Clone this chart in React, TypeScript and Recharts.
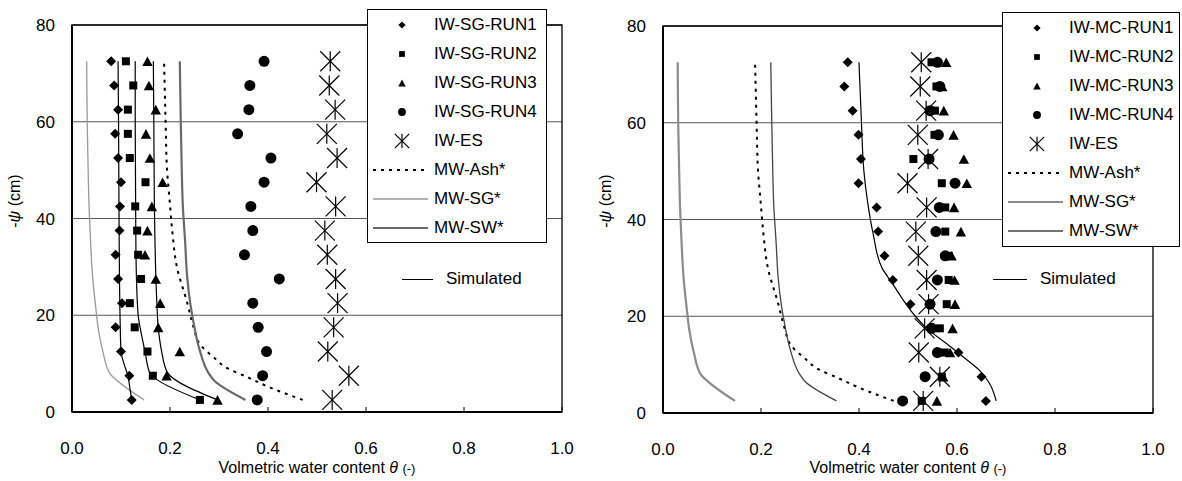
import {
  ComposedChart, Scatter, Line, XAxis, YAxis, CartesianGrid, Legend, ReferenceArea,
} from 'recharts'

const FONT = '"Liberation Sans", Arial, Helvetica, sans-serif'

// suction heads of the measured points (cm)
const PSI = [72.5, 67.5, 62.5, 57.5, 52.5, 47.5, 42.5, 37.5, 32.5, 27.5, 22.5, 17.5, 12.5, 7.5, 2.5]

// left panel, IW-SG runs (theta at each PSI)
const SG_RUN1 = [0.080, 0.086, 0.094, 0.088, 0.094, 0.100, 0.098, 0.097, 0.089, 0.094, 0.102, 0.089, 0.100, 0.117, 0.122]
const SG_RUN2 = [0.110, 0.125, 0.114, 0.114, 0.118, 0.150, 0.129, 0.133, 0.135, 0.141, 0.118, 0.128, 0.154, 0.165, 0.261]
const SG_RUN3 = [0.154, 0.157, 0.171, 0.151, 0.159, 0.185, 0.163, 0.154, 0.149, 0.171, 0.180, 0.176, 0.220, 0.193, 0.297]
const SG_RUN4 = [0.392, 0.363, 0.361, 0.338, 0.406, 0.392, 0.365, 0.369, 0.352, 0.423, 0.369, 0.380, 0.397, 0.389, 0.378]

// right panel, IW-MC runs
const MC_RUN1 = [0.377, 0.370, 0.387, 0.399, 0.404, 0.399, 0.436, 0.439, 0.452, 0.469, 0.505, 0.553, 0.603, 0.650, 0.659]
const MC_RUN2 = [0.548, 0.558, 0.555, 0.554, 0.511, 0.569, 0.576, 0.576, 0.583, 0.583, 0.579, 0.565, 0.575, 0.569, 0.528]
const MC_RUN3 = [0.578, 0.570, 0.573, 0.593, 0.614, 0.620, 0.594, 0.608, 0.589, 0.595, 0.596, 0.591, 0.586, 0.572, 0.559]
const MC_RUN4 = [0.560, 0.565, 0.545, 0.562, 0.543, 0.596, 0.564, 0.557, 0.576, 0.560, 0.545, 0.548, 0.560, 0.535, 0.489]

// IW-ES, same in both panels
const IW_ES = [0.527, 0.525, 0.537, 0.520, 0.541, 0.499, 0.538, 0.516, 0.521, 0.538, 0.542, 0.534, 0.522, 0.565, 0.531]

// simulated curves
const SIM1_PSI = [72.5, 60, 40, 20, 12.5, 10, 7.5, 5, 2.5]
const SIM1_THETA = [0.094, 0.095, 0.096, 0.098, 0.100, 0.106, 0.114, 0.118, 0.122]
const SIM2_PSI = [72.5, 60, 40, 30, 20, 17.5, 12.5, 8, 6.8, 2.5]
const SIM2_THETA = [0.129, 0.129, 0.130, 0.131, 0.135, 0.139, 0.149, 0.159, 0.172, 0.261]
const SIM3_PSI = [72.5, 60, 44, 23, 17.5, 12.5, 8.3, 2.5]
const SIM3_THETA = [0.166, 0.167, 0.168, 0.173, 0.176, 0.183, 0.194, 0.297]
const SIM_MC_PSI = [72.5, 60, 50, 44, 37, 30, 26.8, 23.4, 20, 17.8, 14, 11, 8.9, 6, 2.5]
const SIM_MC_THETA = [0.400, 0.405, 0.410, 0.417, 0.429, 0.447, 0.468, 0.490, 0.515, 0.535, 0.583, 0.620, 0.645, 0.667, 0.680]

// MW curves (both panels)
const ASH_PSI = [72, 60, 50, 44, 37, 30, 23, 17.6, 14, 11.4, 9, 7.3, 5.5, 4.5, 2.5]
const ASH_THETA = [0.188, 0.191, 0.194, 0.199, 0.205, 0.214, 0.234, 0.248, 0.261, 0.288, 0.318, 0.356, 0.394, 0.418, 0.471]
const MWSG_PSI = [72.5, 60, 50, 42, 35, 28, 22, 17, 12.5, 8, 6.5, 2.5]
const MWSG_THETA = [0.030, 0.031, 0.033, 0.035, 0.038, 0.042, 0.048, 0.054, 0.063, 0.077, 0.092, 0.147]
const MWSW_PSI = [72.5, 60, 50, 43, 35, 28, 22, 18, 13, 8, 6.5, 2.5]
const MWSW_THETA = [0.220, 0.222, 0.224, 0.226, 0.231, 0.235, 0.242, 0.249, 0.260, 0.279, 0.290, 0.354]

const X_TICKS = [0, 0.2, 0.4, 0.6, 0.8, 1.0]
const Y_TICKS = [0, 20, 40, 60, 80]

type Kind = 'diamond' | 'square' | 'triangle' | 'circle' | 'star'

interface MarkerSeries { name: string; kind: Kind; values: number[] }
interface CurveStyle { stroke: string; width: number; dash?: string }
interface CurveSeries extends CurveStyle { name: string; psi: number[]; theta: number[] }

function pts(psi: number[], theta: number[]) {
  return psi.map((y, i) => ({ x: theta[i], y }))
}

function Mark({ kind, cx, cy, s = 1 }: { kind: Kind; cx: number; cy: number; s?: number }) {
  if (kind === 'diamond') {
    const d = 5 * s
    return <path d={`M${cx},${cy - d}L${cx + d},${cy}L${cx},${cy + d}L${cx - d},${cy}Z`} fill="#000" />
  }
  if (kind === 'square') {
    const d = 4 * s
    return <rect x={cx - d} y={cy - d} width={2 * d} height={2 * d} fill="#000" />
  }
  if (kind === 'triangle') {
    const w = 5.2 * s
    const h = 4.8 * s
    return <path d={`M${cx},${cy - h}L${cx + w},${cy + h}L${cx - w},${cy + h}Z`} fill="#000" />
  }
  if (kind === 'circle') return <circle cx={cx} cy={cy} r={5.5 * s} fill="#000" />
  const d = 10 * s
  return (
    <g stroke="#000" strokeWidth={1.2}>
      <line x1={cx - d} y1={cy - d} x2={cx + d} y2={cy + d} />
      <line x1={cx - d} y1={cy + d} x2={cx + d} y2={cy - d} />
      <line x1={cx} y1={cy - d} x2={cx} y2={cy + d} />
    </g>
  )
}

interface LegendRow { name: string; kind?: Kind; line?: CurveStyle }

function LegendBox({ rows, width, height, sim }: {
  rows: LegendRow[]; width: number; height: number
  sim: { x1: number; x2: number; y: number; tx: number }
}) {
  return (
    <div style={{ position: 'relative', width, height, fontFamily: FONT, fontSize: 17, color: '#000' }}>
      <div style={{
        position: 'absolute', inset: 0, border: '1px solid #000', background: '#fff', boxSizing: 'border-box',
      }} />
      {rows.map((r, i) => (
        <div key={r.name} style={{
          position: 'absolute', left: 0, top: 16 + i * 29 - 11, height: 22, display: 'flex', alignItems: 'center',
        }}>
          <svg width={67} height={22}>
            {r.kind && <Mark kind={r.kind} cx={35} cy={11} s={0.72} />}
            {r.line && (
              <line x1={6} x2={61} y1={11} y2={11} stroke={r.line.stroke}
                strokeWidth={r.line.width} strokeDasharray={r.line.dash} />
            )}
          </svg>
          <span style={{ whiteSpace: 'nowrap' }}>{r.name}</span>
        </div>
      ))}
      <svg style={{ position: 'absolute', left: 0, top: 0, overflow: 'visible' }} width={1} height={1}>
        <line x1={sim.x1} x2={sim.x2} y1={sim.y + 0.5} y2={sim.y + 0.5} stroke="#000" strokeWidth={1} />
      </svg>
      <span style={{ position: 'absolute', left: sim.tx, top: sim.y - 11, lineHeight: '22px', whiteSpace: 'nowrap' }}>
        Simulated
      </span>
    </div>
  )
}

interface PanelProps {
  left: number
  marginTop: number
  markers: MarkerSeries[]
  sims: CurveSeries[]
  mw: CurveSeries[]
  legendLeft: number
  legendTop: number
  legendWidth: number
  legendHeight: number
  sim: { x1: number; x2: number; y: number; tx: number }
}

function Panel(p: PanelProps) {
  const W = 591
  const H = 481
  const rows: LegendRow[] = [
    ...p.markers.map((m) => ({ name: m.name, kind: m.kind })),
    ...p.mw.map((c) => ({ name: c.name, line: c })),
  ]
  return (
    <div style={{ position: 'absolute', left: p.left, top: 0, width: W, height: H }}>
      <ComposedChart width={W} height={H} margin={{ top: p.marginTop, right: 29, bottom: 69 - 40 - (p.marginTop - 25), left: 0 }}>
        <CartesianGrid vertical={false} stroke="#555" strokeWidth={1} />
        <XAxis
          type="number" dataKey="x" domain={[0, 1]} ticks={X_TICKS} height={40}
          tickFormatter={(v: number) => v.toFixed(1)}
          tick={{ fontSize: 17, fill: '#000', fontFamily: FONT }}
          tickSize={-5} tickMargin={35}
          axisLine={{ stroke: '#000', strokeWidth: 2 }} tickLine={{ stroke: '#000' }}
        />
        <YAxis
          type="number" dataKey="y" domain={[0, 80]} ticks={Y_TICKS} width={72}
          tick={{ fontSize: 17, fill: '#000', fontFamily: FONT }}
          tickSize={0} tickMargin={17} tickLine={false}
          axisLine={{ stroke: '#000', strokeWidth: 2 }}
        />
        <ReferenceArea x1={0} x2={1} y1={0} y2={80} fill="none" stroke="#000" strokeWidth={1.3} />
        {p.mw.map((c) => (
          <Line key={c.name} data={pts(c.psi, c.theta)} dataKey="y" type="monotoneY"
            stroke={c.stroke} strokeWidth={c.width} strokeDasharray={c.dash}
            dot={false} activeDot={false} isAnimationActive={false} />
        ))}
        {p.sims.map((c) => (
          <Line key={c.name} data={pts(c.psi, c.theta)} dataKey="y" type="monotoneY"
            stroke={c.stroke} strokeWidth={c.width}
            dot={false} activeDot={false} isAnimationActive={false} />
        ))}
        {p.markers.map((m) => (
          <Scatter key={m.name} name={m.name} data={pts(PSI, m.values)} isAnimationActive={false}
            shape={(s: any) => <Mark kind={m.kind} cx={s.cx} cy={s.cy} />} />
        ))}
        <Legend
          layout="vertical" align="center" verticalAlign="middle"
          wrapperStyle={{ left: p.legendLeft, top: p.legendTop, width: p.legendWidth, height: p.legendHeight }}
          content={() => <LegendBox rows={rows} width={p.legendWidth} height={p.legendHeight} sim={p.sim} />}
        />
      </ComposedChart>
      <div style={{
        position: 'absolute', left: 15, top: 201, transform: 'translate(-50%, -50%) rotate(-90deg)',
        fontFamily: FONT, fontSize: 16, whiteSpace: 'nowrap', color: '#000',
      }}>
        -<i>ψ</i> (cm)
      </div>
      <div style={{
        position: 'absolute', left: 317, top: 468, transform: 'translate(-50%, -50%)',
        fontFamily: FONT, fontSize: 16, whiteSpace: 'nowrap', color: '#000',
      }}>
        Volmetric water content <i>θ</i> <span style={{ fontSize: 13 }}>(-)</span>
      </div>
    </div>
  )
}

const SIM_STYLE = { stroke: '#000', width: 1.2 }
const ASH_STYLE = { stroke: '#000', width: 2, dash: '3 5' }

const LEFT_MARKERS: MarkerSeries[] = [
  { name: 'IW-SG-RUN1', kind: 'diamond', values: SG_RUN1 },
  { name: 'IW-SG-RUN2', kind: 'square', values: SG_RUN2 },
  { name: 'IW-SG-RUN3', kind: 'triangle', values: SG_RUN3 },
  { name: 'IW-SG-RUN4', kind: 'circle', values: SG_RUN4 },
  { name: 'IW-ES', kind: 'star', values: IW_ES },
]
const RIGHT_MARKERS: MarkerSeries[] = [
  { name: 'IW-MC-RUN1', kind: 'diamond', values: MC_RUN1 },
  { name: 'IW-MC-RUN2', kind: 'square', values: MC_RUN2 },
  { name: 'IW-MC-RUN3', kind: 'triangle', values: MC_RUN3 },
  { name: 'IW-MC-RUN4', kind: 'circle', values: MC_RUN4 },
  { name: 'IW-ES', kind: 'star', values: IW_ES },
]

const LEFT_SIMS: CurveSeries[] = [
  { name: 'sim1', psi: SIM1_PSI, theta: SIM1_THETA, ...SIM_STYLE },
  { name: 'sim2', psi: SIM2_PSI, theta: SIM2_THETA, ...SIM_STYLE },
  { name: 'sim3', psi: SIM3_PSI, theta: SIM3_THETA, ...SIM_STYLE },
]
const RIGHT_SIMS: CurveSeries[] = [
  { name: 'simMC', psi: SIM_MC_PSI, theta: SIM_MC_THETA, ...SIM_STYLE },
]

const LEFT_MW: CurveSeries[] = [
  { name: 'MW-Ash*', psi: ASH_PSI, theta: ASH_THETA, ...ASH_STYLE },
  { name: 'MW-SG*', psi: MWSG_PSI, theta: MWSG_THETA, stroke: '#9a9a9a', width: 1.3 },
  { name: 'MW-SW*', psi: MWSW_PSI, theta: MWSW_THETA, stroke: '#6a6a6a', width: 2.2 },
]
const RIGHT_MW: CurveSeries[] = [
  { name: 'MW-Ash*', psi: ASH_PSI, theta: ASH_THETA, ...ASH_STYLE },
  { name: 'MW-SG*', psi: MWSG_PSI, theta: MWSG_THETA, stroke: '#8c8c8c', width: 2.2 },
  { name: 'MW-SW*', psi: MWSW_PSI, theta: MWSW_THETA, stroke: '#444', width: 1.3 },
]

export default function App() {
  return (
    <div style={{ position: 'absolute', left: 0, top: 0, width: 1182, height: 481, background: '#fff', overflow: 'hidden' }}>
      <Panel
        left={0} marginTop={25} markers={LEFT_MARKERS} sims={LEFT_SIMS} mw={LEFT_MW}
        legendLeft={367} legendTop={9} legendWidth={180} legendHeight={234}
        sim={{ x1: 35, x2: 66, y: 270, tx: 79 }}
      />
      <Panel
        left={591} marginTop={26} markers={RIGHT_MARKERS} sims={RIGHT_SIMS} mw={RIGHT_MW}
        legendLeft={411} legendTop={12} legendWidth={178} legendHeight={235}
        sim={{ x1: -9, x2: 25, y: 267, tx: 38 }}
      />
    </div>
  )
}
